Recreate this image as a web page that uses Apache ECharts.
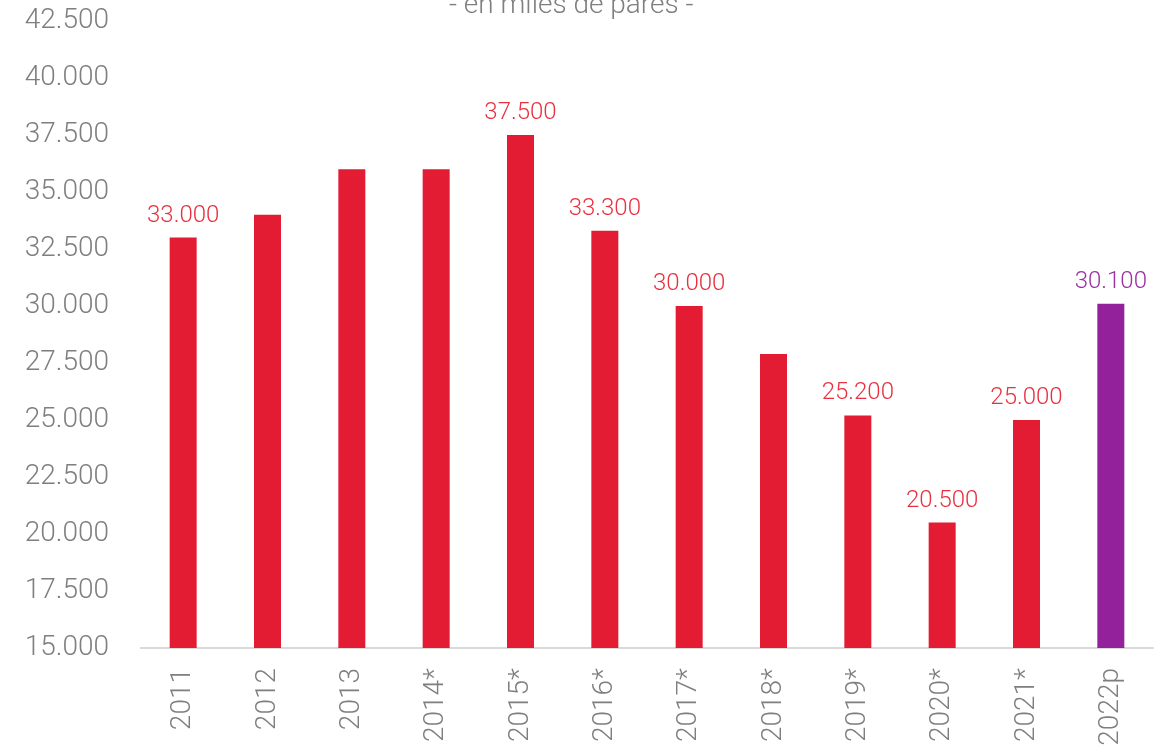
<!DOCTYPE html>
<html>
<head>
<meta charset="utf-8">
<script src="https://cdn.jsdelivr.net/npm/echarts@6/dist/echarts.min.js"></script>
<style>
html,body{margin:0;padding:0;background:#fff;}
#chart{width:1160px;height:751px;}
</style>
</head>
<body>
<div id="chart"></div>
<script>
const categories = ['2011','2012','2013','2014*','2015*','2016*','2017*','2018*','2019*','2020*','2021*','2022p'];
const values = [33000, 34000, 36000, 36000, 37500, 33300, 30000, 27900, 25200, 20500, 25000, 30100];
const showValueLabel = [true, false, false, false, true, true, true, false, true, true, true, true];
const barColors = ['#E31B33','#E31B33','#E31B33','#E31B33','#E31B33','#E31B33','#E31B33','#E31B33','#E31B33','#E31B33','#E31B33','#93219B'];
const labelColors = ['#E8303F','#E8303F','#E8303F','#E8303F','#E8303F','#E8303F','#E8303F','#E8303F','#E8303F','#E8303F','#E8303F','#9B2FA3'];
const titleText = '- en miles de pares -';

const fmt = v => Math.round(v).toString().replace(/\B(?=(\d{3})+(?!\d))/g, '.');
const FONT = 'Roboto';

const chart = echarts.init(document.getElementById('chart'));
chart.setOption({
  animation: false,
  backgroundColor: '#ffffff',
  title: {
    text: titleText,
    left: 444,
    top: -13,
    textStyle: { fontFamily: FONT, fontWeight: 300, fontSize: 28, color: '#7f7f7f' }
  },
  grid: { left: 141, right: 7, top: 21, bottom: 103, containLabel: false },
  xAxis: {
    type: 'category',
    data: categories,
    axisLine: { show: true, lineStyle: { color: '#d9d9d9', width: 2 } },
    axisTick: { show: false },
    axisLabel: {
      rotate: 90, margin: 20, interval: 0,
      fontFamily: FONT, fontWeight: 300, fontSize: 28, color: '#7f7f7f'
    }
  },
  yAxis: {
    type: 'value',
    min: 15000, max: 42500, interval: 2500,
    splitLine: { show: false },
    axisLine: { show: false },
    axisTick: { show: false },
    axisLabel: {
      margin: 32,
      fontFamily: FONT, fontWeight: 300, fontSize: 28, color: '#7f7f7f',
      formatter: v => fmt(v)
    }
  },
  series: [{
    type: 'bar',
    barWidth: 27,
    data: values.map((v, i) => ({
      value: v,
      itemStyle: { color: barColors[i] },
      label: {
        show: showValueLabel[i],
        position: 'top',
        distance: 10,
        formatter: p => fmt(p.value),
        fontFamily: FONT, fontWeight: 300, fontSize: 24, color: labelColors[i]
      }
    }))
  }]
});
</script>
</body>
</html>
